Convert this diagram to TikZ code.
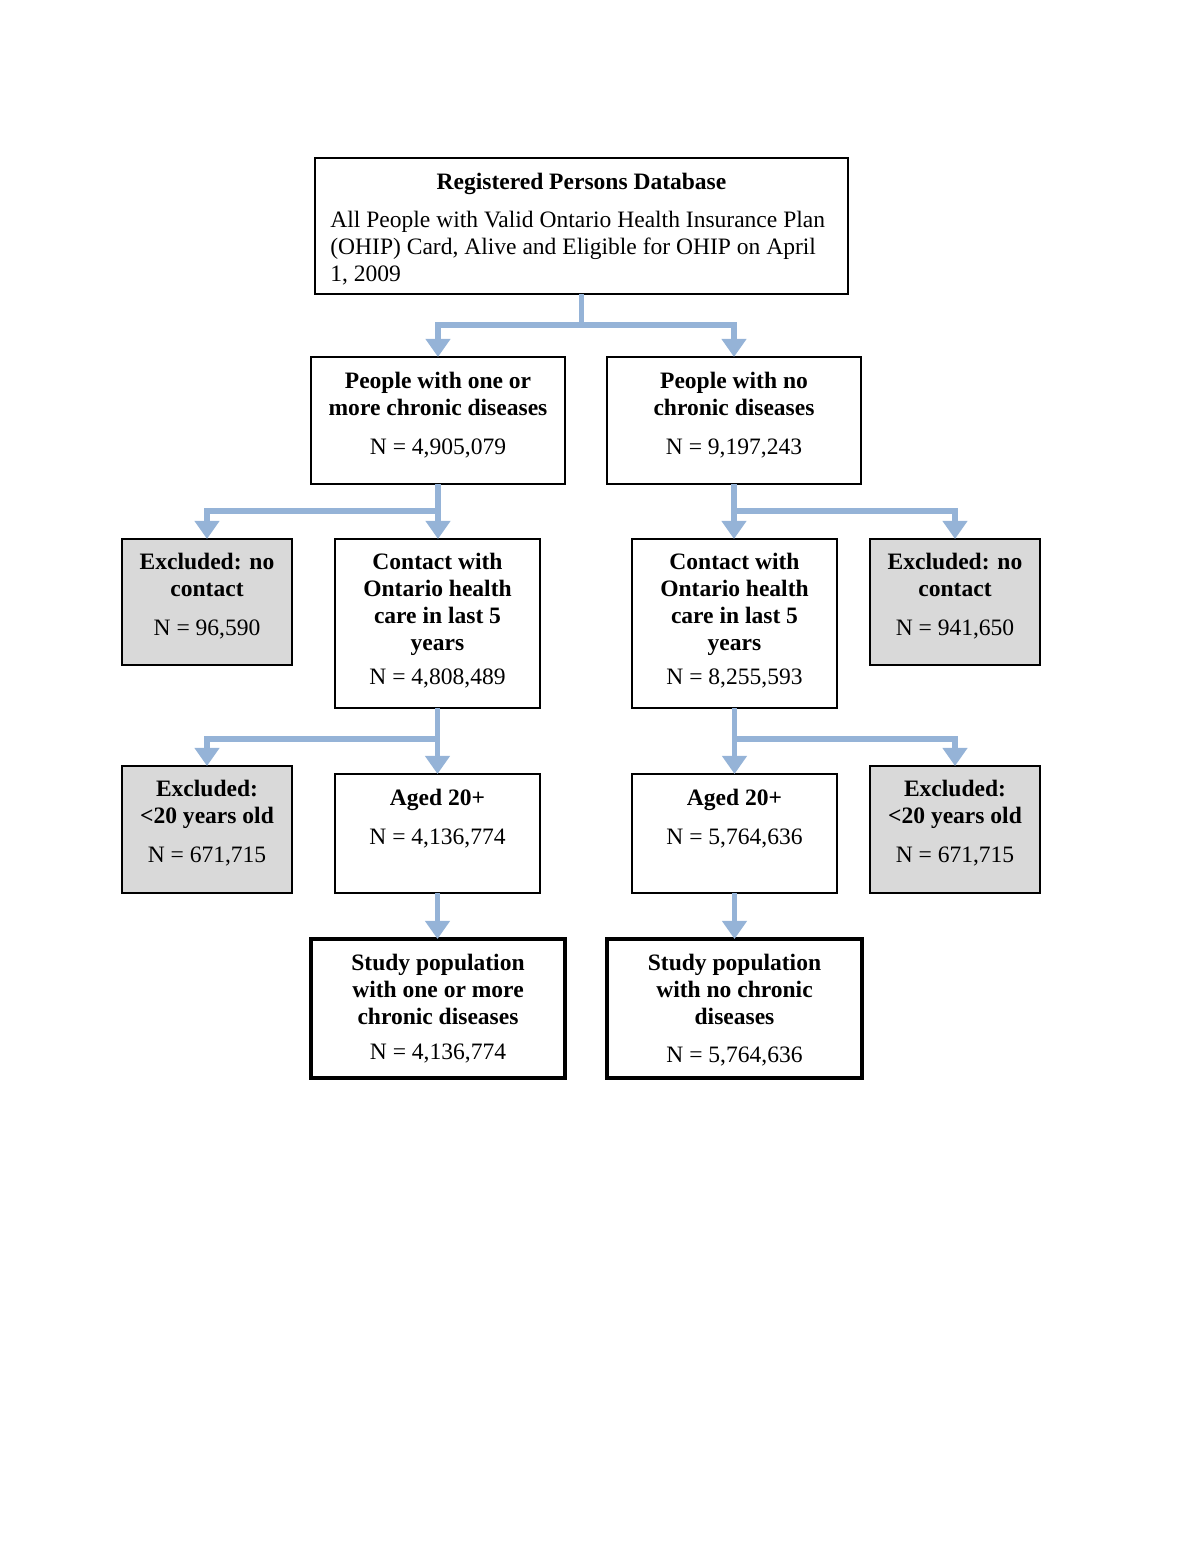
\documentclass[tikz,border=0pt]{standalone}
\usepackage{fontspec}
\setmainfont{Liberation Serif}
\usetikzlibrary{arrows.meta}
\definecolor{flowblue}{RGB}{149,179,215}
\definecolor{exgray}{RGB}{217,217,217}
\def\pxu{0.51pt}
\tikzset{
  box/.style={draw, line width=0.75pt, inner sep=0pt, outer sep=0pt, anchor=north west},
  exbox/.style={box, fill=exgray},
  finalbox/.style={box, line width=1.6pt},
  txt/.style={anchor=north, inner sep=0pt, align=center, font=\fontsize{12}{13.8}\selectfont},
  flowline/.style={draw=flowblue, line width=3pt},
  flow/.style={flowline, -{Triangle[length=9.2pt,width=12.2pt]}}
}
\begin{document}
\begin{tikzpicture}[x=0.51pt, y=-0.51pt]
\useasboundingbox (0,0) rectangle (1200,1553);
% boxes
\node[box, minimum width=533*\pxu, minimum height=136*\pxu] (top) at (315,158) {};
\node[box, minimum width=254*\pxu, minimum height=127*\pxu] (p1) at (311,357) {};
\node[box, minimum width=254*\pxu, minimum height=127*\pxu] (p2) at (607,357) {};
\node[exbox, minimum width=170*\pxu, minimum height=126*\pxu] (ex1) at (122,539) {};
\node[box, minimum width=205*\pxu, minimum height=169*\pxu] (c1) at (335,539) {};
\node[box, minimum width=205*\pxu, minimum height=169*\pxu] (c2) at (632,539) {};
\node[exbox, minimum width=170*\pxu, minimum height=126*\pxu] (ex2) at (870,539) {};
\node[exbox, minimum width=170*\pxu, minimum height=127*\pxu] (ex3) at (122,766) {};
\node[box, minimum width=205*\pxu, minimum height=119*\pxu] (a1) at (335,774) {};
\node[box, minimum width=205*\pxu, minimum height=119*\pxu] (a2) at (632,774) {};
\node[exbox, minimum width=170*\pxu, minimum height=127*\pxu] (ex4) at (870,766) {};
\node[finalbox, minimum width=254*\pxu, minimum height=139*\pxu] (s1) at (311,939) {};
\node[finalbox, minimum width=255*\pxu, minimum height=139*\pxu] (s2) at (607,939) {};
% texts
\node[txt] (toptitle) at (581.5,170) {\strut\textbf{Registered Persons Database}};
\node[txt, anchor=north west, align=left] (topbody) at (330,208) {\strut All People with Valid Ontario Health Insurance Plan\\(OHIP) Card, Alive and Eligible for OHIP on April\\1, 2009};
\node[txt] (p1t) at (438,369) {\strut\textbf{People with one or}\\\textbf{more chronic diseases}\\[6pt]N = 4,905,079};
\node[txt] (p2t) at (734,369) {\strut\textbf{People with no}\\\textbf{chronic diseases}\\[6pt]N = 9,197,243};
\node[txt] (ex1t) at (207,550) {\strut\textbf{Excluded: no}\\\textbf{contact}\\[6pt]N = 96,590};
\node[txt] (ex2t) at (955,550) {\strut\textbf{Excluded: no}\\\textbf{contact}\\[6pt]N = 941,650};
\node[txt] (c1t) at (437.5,550) {\strut\textbf{Contact with}\\\textbf{Ontario health}\\\textbf{care in last 5}\\\textbf{years}\\[3.6pt]N = 4,808,489};
\node[txt] (c2t) at (734.5,550) {\strut\textbf{Contact with}\\\textbf{Ontario health}\\\textbf{care in last 5}\\\textbf{years}\\[3.6pt]N = 8,255,593};
\node[txt] (ex3t) at (207,777) {\strut\textbf{Excluded:}\\\textbf{<20 years old}\\[6pt]N = 671,715};
\node[txt] (ex4t) at (955,777) {\strut\textbf{Excluded:}\\\textbf{<20 years old}\\[6pt]N = 671,715};
\node[txt] (a1t) at (437.5,786) {\strut\textbf{Aged 20+}\\[6pt]N = 4,136,774};
\node[txt] (a2t) at (734.5,786) {\strut\textbf{Aged 20+}\\[6pt]N = 5,764,636};
\node[txt] (s1t) at (438,951) {\strut\textbf{Study population}\\\textbf{with one or more}\\\textbf{chronic diseases}\\[4pt]N = 4,136,774};
\node[txt] (s2t) at (734.5,951) {\strut\textbf{Study population}\\\textbf{with no chronic}\\\textbf{diseases}\\[5.6pt]N = 5,764,636};
% connectors
\coordinate (j1) at (581.5,325);
\draw[flowline] (top.south) -- (j1);
\draw[flow] (j1) -| (p1.north);
\draw[flow] (j1) -| (p2.north);
\coordinate (j2) at (438,511);
\coordinate (j3) at (734,511);
\draw[flow] (p1.south) -- (p1.south |- c1.north);
\draw[flow] (j2) -| (ex1.north);
\draw[flow] (p2.south) -- (p2.south |- c2.north);
\draw[flow] (j3) -| (ex2.north);
\coordinate (j4) at (437.5,739);
\coordinate (j5) at (734.5,739);
\draw[flow] (c1.south) -- (a1.north);
\draw[flow] (j4) -| (ex3.north);
\draw[flow] (c2.south) -- (a2.north);
\draw[flow] (j5) -| (ex4.north);
\draw[flow] (a1.south) -- (a1.south |- s1.north);
\draw[flow] (a2.south) -- (a2.south |- s2.north);
\end{tikzpicture}
\end{document}
